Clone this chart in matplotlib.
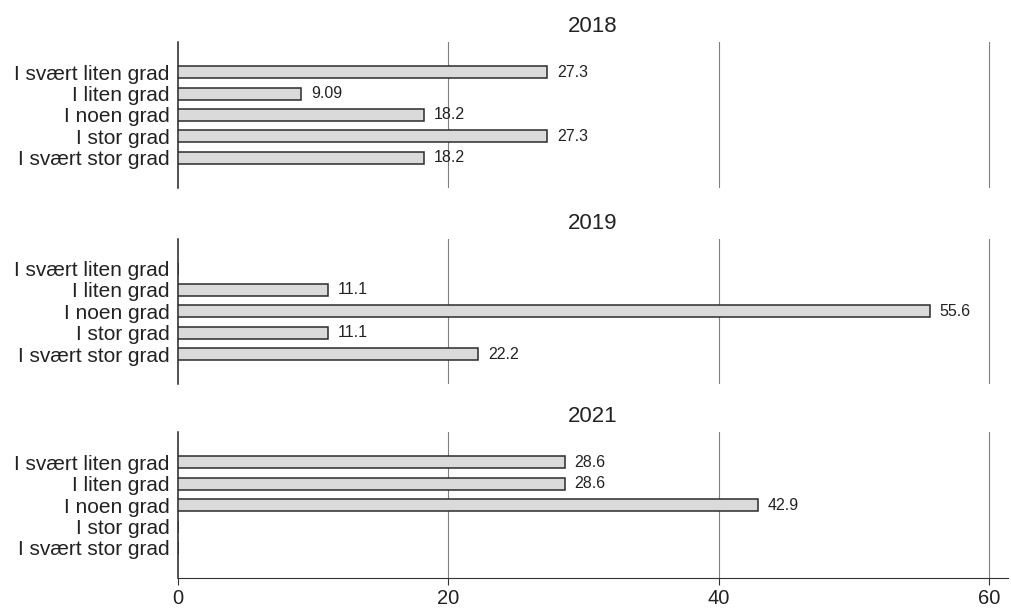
import numpy as np
import matplotlib.pyplot as plt

plt.rcParams['font.family'] = ['Liberation Sans', 'DejaVu Sans']

# data
categories = ['I svært liten grad', 'I liten grad', 'I noen grad', 'I stor grad', 'I svært stor grad']
years = ['2018', '2019', '2021']
vals_2018 = [27.3, 9.09, 18.2, 27.3, 18.2]
vals_2019 = [np.nan, 11.1, 55.6, 11.1, 22.2]
vals_2021 = [28.6, 28.6, 42.9, np.nan, np.nan]
series = [vals_2018, vals_2019, vals_2021]

fig = plt.figure(figsize=(10.11, 6.1), dpi=100)
left, width = 0.176, 0.821
bottoms = [0.692, 0.370, 0.0525]
height = 0.239

pos = np.arange(len(categories))
for i, (yr, vals, b) in enumerate(zip(years, series, bottoms)):
    ax = fig.add_axes([left, b, width, height])
    v = np.array(vals, dtype=float)
    ax.barh(pos, np.nan_to_num(v), height=0.56, color='#dadada',
            edgecolor='#2b2b2b', linewidth=1.1, zorder=3)
    for p, x in zip(pos, v):
        if np.isnan(x):
            continue
        ax.text(x + 0.75, p, '{:.3g}'.format(x), va='center', ha='left',
                fontsize=11.5, color='#222222')
    ax.set_xlim(0, 61.4)
    ax.set_ylim(len(categories) - 1 + 1.4, -1.4)
    ax.set_yticks(pos)
    ax.set_yticklabels(categories, fontsize=15, color='#222222')
    ax.tick_params(axis='y', length=0, pad=6)
    ax.set_xticks([0, 20, 40, 60])
    for g in [20, 40, 60]:
        ax.axvline(g, color='#808080', linewidth=0.8, zorder=1)
    ax.set_title(yr, fontsize=16, color='#222222', pad=7)
    for s in ['top', 'right']:
        ax.spines[s].set_visible(False)
    ax.spines['left'].set_color('#222222')
    ax.spines['left'].set_linewidth(1.1)
    if i < 2:
        ax.spines['bottom'].set_visible(False)
        ax.tick_params(axis='x', length=0, labelbottom=False)
    else:
        ax.spines['bottom'].set_color('#333333')
        ax.tick_params(axis='x', length=5, color='#333333', labelsize=14.5,
                       labelcolor='#222222', pad=3)

fig.savefig('out.png', dpi=100, facecolor='white')
